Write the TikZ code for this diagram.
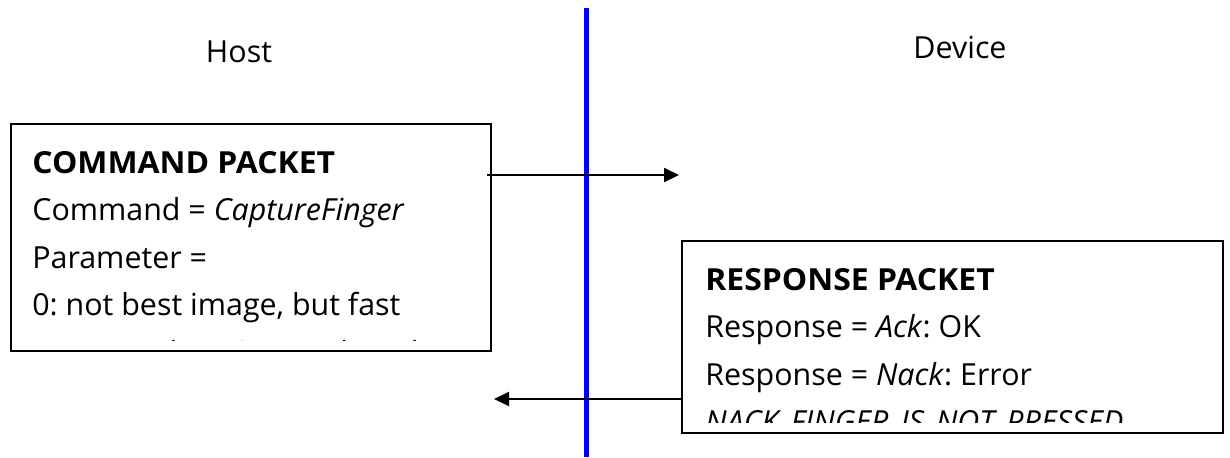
\documentclass[tikz,border=0pt]{standalone}
\usepackage{fontspec}
\setmainfont{Open Sans}[BoldFeatures={FakeStretch=1.05}]
\usetikzlibrary{positioning}
\usetikzlibrary{arrows.meta}
\frenchspacing

\tikzset
  {
    packetBox/.style=  {draw, line width=0.04cm, inner sep=0pt, outer sep=0pt},
    packetLine/.style= {anchor=base west, inner sep=0pt, font=\fontsize{17.3}{20}\selectfont},
    sideLabel/.style=  {anchor=base, inner sep=0pt, font=\fontsize{17.3}{20}\selectfont},
    msgArrow/.style=   {line width=0.04cm, -{Triangle[length=0.3cm, width=0.28cm]}}
  }

\begin{document}
\begin{tikzpicture}[x=0.02cm, y=-0.02cm]

\useasboundingbox (0,0) rectangle (1230,457);

% host / device split
\coordinate (splitTop) at (586.5,8);
\coordinate (splitBottom) at (586.5,457);
\draw[blue, line width=0.09cm] (splitTop)--(splitBottom);

\node[sideLabel] (host) at (239,62) {Host};
\node[sideLabel] (device) at (960,58) {Device};

% command packet
\begin{scope}
\node[packetBox, minimum width=9.6cm, minimum height=4.54cm] (cmd) at (251,237.5) {};
\clip (11,124) rectangle (491,340);
\foreach \txt [count=\i] in {{\textbf{COMMAND PACKET}},{Command = \textit{CaptureFinger}},{Parameter =},{0: not best image, but fast},{Nonzero: best image, but slow}}
\node[packetLine] (cmdLine\i) at (32,125.5+47.5*\i) {\txt};
\end{scope}

% response packet
\begin{scope}
\node[packetBox, minimum width=10.82cm, minimum height=3.84cm] (resp) at (952.5,337) {};
\clip (682,241) rectangle (1223,422);
\foreach \txt [count=\i] in {{\textbf{RESPONSE PACKET}},{Response = \textit{Ack}: OK},{Response = \textit{Nack}: Error},{\textit{NACK\_FINGER\_IS\_NOT\_PRESSED}}}
\node[packetLine] (respLine\i) at (705,242.5+47.5*\i) {\txt};
\end{scope}

% messages
\coordinate (devIn) at (679,175);
\coordinate (hostIn) at (494,399);

\draw[msgArrow] (cmd.east |- devIn) ++(-4,0) -- (devIn);
\draw[msgArrow] (resp.west |- hostIn) -- (hostIn);

\end{tikzpicture}
\end{document}
